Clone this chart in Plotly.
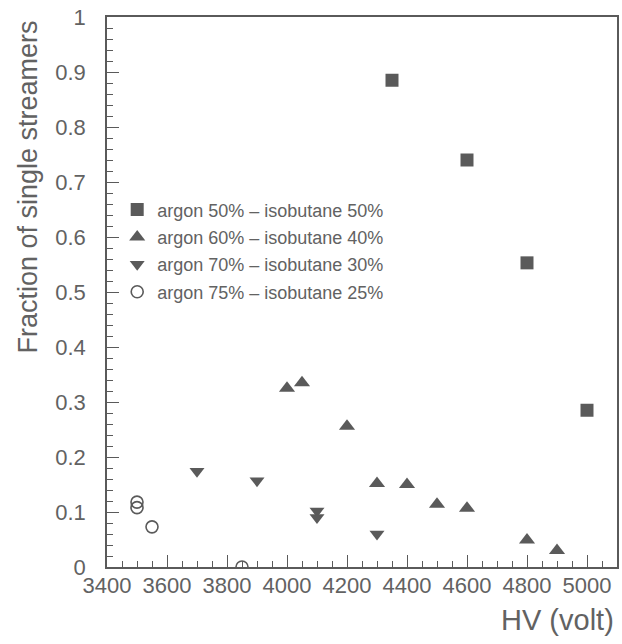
import plotly.graph_objects as go

# Fraction of single streamers vs. high voltage for four gas mixtures
ar50_hv = [4350, 4600, 4800, 5000]
ar50_frac = [0.885, 0.740, 0.553, 0.285]

ar60_hv = [4000, 4050, 4200, 4300, 4400, 4500, 4600, 4800, 4900]
ar60_frac = [0.325, 0.335, 0.256, 0.152, 0.150, 0.114, 0.107, 0.049, 0.030]

ar70_hv = [3700, 3900, 4100, 4100, 4300]
ar70_frac = [0.174, 0.157, 0.102, 0.090, 0.060]

ar75_hv = [3500, 3500, 3550, 3850]
ar75_frac = [0.118, 0.108, 0.073, 0.0]

labels = [
    "argon 50% – isobutane 50%",
    "argon 60% – isobutane 40%",
    "argon 70% – isobutane 30%",
    "argon 75% – isobutane 25%",
]

x_ticks = [3400, 3600, 3800, 4000, 4200, 4400, 4600, 4800, 5000]
y_ticks = [0, 0.1, 0.2, 0.3, 0.4, 0.5, 0.6, 0.7, 0.8, 0.9, 1]
y_ticktext = ["0", "0.1", "0.2", "0.3", "0.4", "0.5", "0.6", "0.7", "0.8", "0.9", "1"]

INK = "#5a5a5a"
TEXT = "#626262"
FONT = "Liberation Sans"

fig = go.Figure()

series = [
    (ar50_hv, ar50_frac, "square", 13, INK, None),
    (ar60_hv, ar60_frac, "triangle-up", 14, INK, None),
    (ar70_hv, ar70_frac, "triangle-down", 13, INK, None),
    (ar75_hv, ar75_frac, "circle-open", 12, INK, 1.6),
]

for i, ((xs, ys, sym, size, col, lw), name) in enumerate(zip(series, labels)):
    marker = dict(symbol=sym, size=size, color=col)
    if lw is not None:
        marker["line"] = dict(width=lw, color=col)
    else:
        marker["line"] = dict(width=0)
    fig.add_trace(go.Scatter(
        x=xs, y=ys, mode="markers", name=name, marker=marker,
        legendgroup=f"g{i}", cliponaxis=True,
    ))

fig.update_layout(
    width=622, height=644,
    margin=dict(l=107, r=3, t=17, b=77),
    paper_bgcolor="white", plot_bgcolor="white",
    font=dict(family=FONT, color=TEXT),
    showlegend=True,
    legend=dict(
        x=0.02, y=0.683, xanchor="left", yanchor="top",
        bgcolor="rgba(0,0,0,0)", borderwidth=0,
        font=dict(size=18, family=FONT, color=TEXT),
        tracegroupgap=1, itemsizing="trace",
    ),
    xaxis=dict(
        range=[3400, 5100], tickvals=x_ticks,
        ticks="inside", ticklen=12, tickwidth=1.2, tickcolor=INK,
        minor=dict(dtick=50, tick0=3400, ticks="inside", ticklen=6, tickcolor=INK, tickwidth=1),
        showline=True, linecolor=INK, linewidth=1.5, mirror=True,
        showgrid=False, zeroline=False,
        ticklabelstandoff=-2,
        tickfont=dict(size=22, family=FONT, color=TEXT),
    ),
    yaxis=dict(
        range=[0, 1], tickvals=y_ticks, ticktext=y_ticktext,
        ticks="inside", ticklen=12, tickwidth=1.2, tickcolor=INK,
        minor=dict(dtick=0.02, tick0=0, ticks="inside", ticklen=6, tickcolor=INK, tickwidth=1),
        showline=True, linecolor=INK, linewidth=1.5, mirror=True,
        showgrid=False, zeroline=False,
        ticklabelstandoff=15,
        tickfont=dict(size=22, family=FONT, color=TEXT),
    ),
    annotations=[
        dict(text="Fraction of single streamers", textangle=-90,
             xref="paper", yref="paper", x=-0.155, y=0.998,
             xanchor="center", yanchor="top", showarrow=False,
             font=dict(size=27, family=FONT, color=TEXT)),
        dict(text="HV (volt)", xref="paper", yref="paper",
             x=0.999, y=-0.0965, xanchor="right", yanchor="middle", showarrow=False,
             font=dict(size=29, family=FONT, color=TEXT)),
    ],
)

fig.write_html("out.html")
